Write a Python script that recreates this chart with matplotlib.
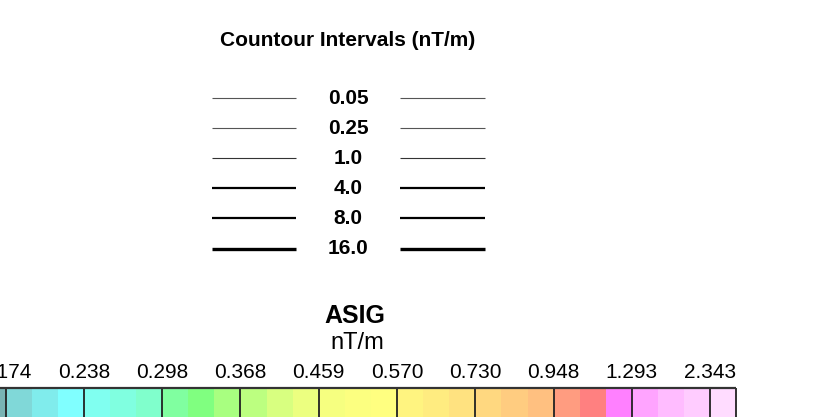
import matplotlib.pyplot as plt

plt.rcParams['font.family'] = ['Liberation Sans', 'DejaVu Sans']

# Contour interval legend
interval_labels = ['0.05', '0.25', '1.0', '4.0', '8.0', '16.0']
interval_widths = [0.8, 0.8, 0.8, 1.6, 1.6, 2.4]
interval_colors = ['#555555', '#555555', '#333333', 'black', 'black', 'black']

# Color bar: one tick label per box, three colour steps per box
bar_labels = ['0.174', '0.238', '0.298', '0.368', '0.459', '0.570',
              '0.730', '0.948', '1.293', '2.343']
bar_colors = ['#78b4b4',
              '#80d8d8', '#80ecec', '#80ffff',
              '#80fff0', '#80ffe0', '#80ffcc',
              '#80ffa0', '#80ff80', '#a8ff80',
              '#bcff80', '#d8ff80', '#ecff80',
              '#f6ff80', '#fcff80', '#ffff80',
              '#fff480', '#ffec80', '#ffe280',
              '#ffd880', '#ffcc80', '#ffc080',
              '#ff9c80', '#ff8080', '#ff80ff',
              '#ffa4ff', '#ffbcff', '#ffccff',
              '#ffdcff']

W, H = 816, 417
fig = plt.figure(figsize=(W / 100, H / 100), dpi=100)

# ---- legend of contour intervals (y in row units)
ax = fig.add_axes([0, 0, 1, 1])
row0, step = 98, 30.1
ax.set_xlim(0, W)
ax.set_ylim((H - row0) / step, -row0 / step)
ax.axis('off')

for i, (lab, lw, c) in enumerate(zip(interval_labels, interval_widths, interval_colors)):
    ax.hlines(i, 212, 296, color=c, lw=lw)
    ax.hlines(i, 400, 485, color=c, lw=lw)
    ax.text(348, i, lab, ha='center', va='center', fontsize=15, fontweight='bold')

ax.text(348, (41 - row0) / step, 'Countour Intervals (nT/m)', ha='center', va='center',
        fontsize=15, fontweight='bold')
ax.text(355, (316 - row0) / step, 'ASIG', ha='center', va='center',
        fontsize=18, fontweight='bold')
ax.text(357, (343 - row0) / step, 'nT/m', ha='center', va='center', fontsize=17)

# ---- color bar (x in colour-step units, box edges every 3 steps)
bar_top = 388
cell = 26.1
x0 = 5.5
cax = fig.add_axes([0, 0, 1, (H - bar_top) / H])
cax.set_xlim(-x0 / cell, (W - x0) / cell)
cax.set_ylim(0, 1)
n = len(bar_colors)
cax.bar([i - 1 for i in range(n)], [1] * n, width=1, align='edge', color=bar_colors,
        linewidth=0)
ticks = [3 * i for i in range(len(bar_labels))]
edges = ticks + [n - 1]
cax.vlines(edges, 0, 1, color='#222222', lw=1.3)
cax.hlines(1, -1, edges[-1], color='#333333', lw=1.6, clip_on=False)
for s in cax.spines.values():
    s.set_visible(False)
cax.set_yticks([])
cax.xaxis.tick_top()
cax.set_xticks(ticks)
cax.set_xticklabels(bar_labels)
cax.tick_params(axis='x', length=0, pad=4, labelsize=15)

fig.savefig('out.png', dpi=100)
